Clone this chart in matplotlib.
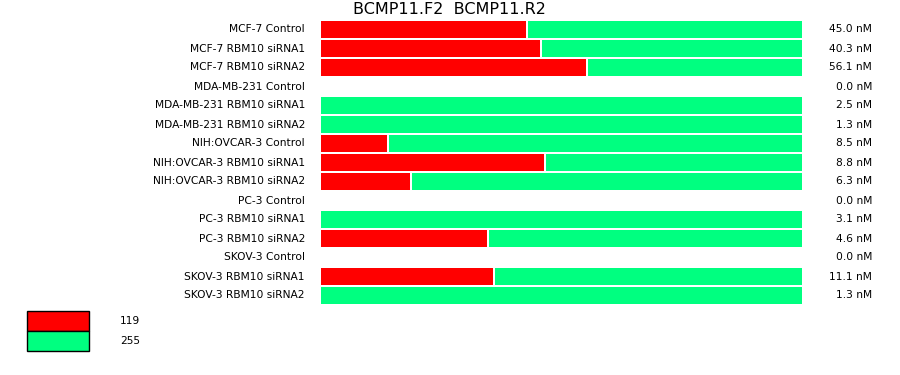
import matplotlib
matplotlib.use("Agg")
import matplotlib.pyplot as plt
from matplotlib.patches import Rectangle

# data
samples = [
    "MCF-7 Control", "MCF-7 RBM10 siRNA1", "MCF-7 RBM10 siRNA2",
    "MDA-MB-231 Control", "MDA-MB-231 RBM10 siRNA1", "MDA-MB-231 RBM10 siRNA2",
    "NIH:OVCAR-3 Control", "NIH:OVCAR-3 RBM10 siRNA1", "NIH:OVCAR-3 RBM10 siRNA2",
    "PC-3 Control", "PC-3 RBM10 siRNA1", "PC-3 RBM10 siRNA2",
    "SKOV-3 Control", "SKOV-3 RBM10 siRNA1", "SKOV-3 RBM10 siRNA2",
]
red_fraction = [0.426, 0.455, 0.551, 0.0, 0.0, 0.0, 0.137, 0.464, 0.185,
                0.0, 0.0, 0.345, 0.0, 0.358, 0.0]
concentration = [45.0, 40.3, 56.1, 0.0, 2.5, 1.3, 8.5, 8.8, 6.3,
                 0.0, 3.1, 4.6, 0.0, 11.1, 1.3]
legend_labels = ["119", "255"]

RED = "#ff0000"
GREEN = "#00ff80"
W, H = 900, 375

fig = plt.figure(figsize=(W / 100, H / 100), dpi=100)
ax = fig.add_axes([321 / W, 1 - 305 / H, 481 / W, 285 / H])
ax.set_xlim(0, 1)
ax.set_ylim(len(samples) - 0.5, -0.5)
ax.axis("off")

gap = 2 / 481
for i, (name, frac, conc) in enumerate(zip(samples, red_fraction, concentration)):
    if conc > 0:
        if frac > 0:
            ax.barh(i, frac, height=17 / 19, color=RED, linewidth=0)
            ax.barh(i, 1 - frac - gap, left=frac + gap, height=17 / 19, color=GREEN, linewidth=0)
        else:
            ax.barh(i, 1, height=17 / 19, color=GREEN, linewidth=0)
    ax.text(-16 / 481, i, name, ha="right", va="center", fontsize=7.7, color="black")
    ax.text(1 + 70 / 481, i, f"{conc:.1f} nM", ha="right", va="center", fontsize=7.7, color="black")

fig.text(449 / W, 1 - 10 / H, "BCMP11.F2  BCMP11.R2", ha="center", va="center", fontsize=11.5)

# legend boxes
for k, (lab, col) in enumerate(zip(legend_labels, [RED, GREEN])):
    y0 = 311 + k * 20
    fig.patches.append(Rectangle((27 / W, 1 - (y0 + 19.5) / H), 62 / W, 19.5 / H,
                                 transform=fig.transFigure, facecolor=col,
                                 edgecolor="black", linewidth=1))
    fig.text(120 / W, 1 - (y0 + 10) / H, lab, ha="left", va="center", fontsize=7.7)

fig.savefig("out.png", dpi=100)
